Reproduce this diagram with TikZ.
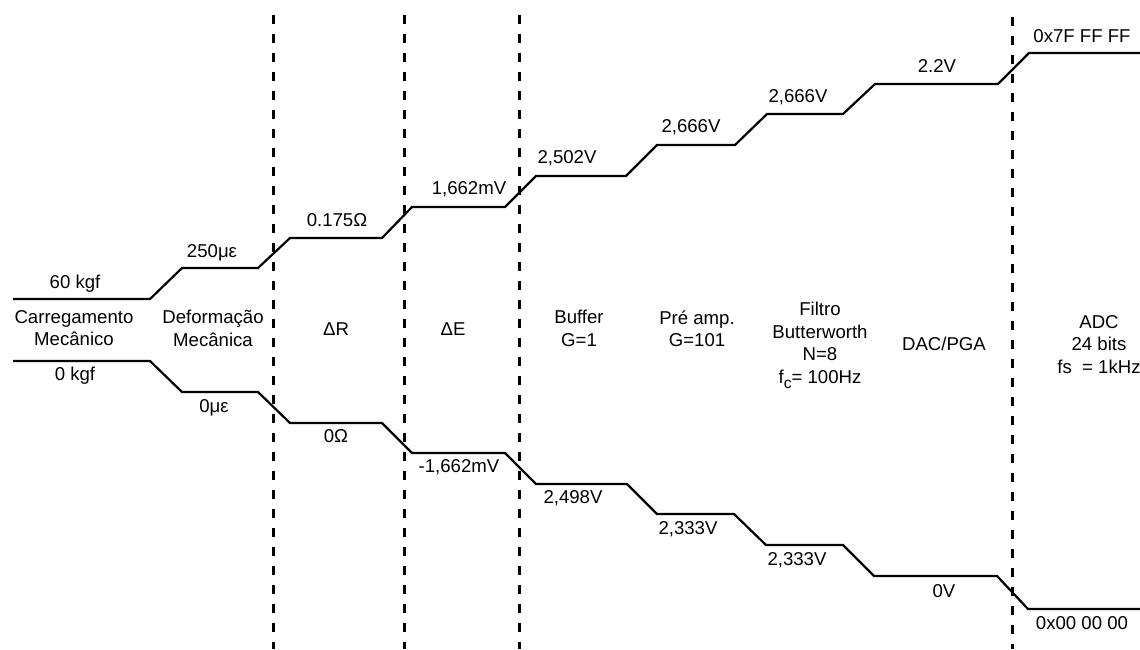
\documentclass[tikz,border=0pt]{standalone}
\usepackage{fontspec}
\setmainfont{Liberation Sans}
\begin{document}
\begin{tikzpicture}[
      x=0.5pt, y=-0.5pt,
      font=\fontsize{9.3}{11.25}\selectfont,
      nivel/.style={line width=1.1pt, line join=miter},
      grenze/.style={line width=1.5pt, dash pattern=on 4.5pt off 5pt},
      wert/.style={anchor=base, inner sep=0pt},
      stufe/.style={anchor=north, align=center, inner sep=0pt}
    ]
      \useasboundingbox (0,0) rectangle (1140,649);

      % Trennlinien zwischen den Stufen
      \draw[grenze] (273,15) -- (273,649);
      \draw[grenze] (404,15) -- (404,649);
      \draw[grenze] (519,15) -- (519,649);
      \draw[grenze] (1012,17) -- (1012,649);

      % obere und untere Treppe
      \draw[nivel] (13,299) -- (150,299) -- (182,268) -- (258,268) -- (290,238) -- (382,238)
        -- (412,207) -- (505,207) -- (536,176) -- (626,176) -- (657,145) -- (735,145)
        -- (767,114) -- (843,114) -- (875,84) -- (998,84) -- (1029,53) -- (1140,53);
      \draw[nivel] (13,361) -- (150,361) -- (182,392) -- (258,392) -- (290,423) -- (382,423)
        -- (412,453) -- (505,453) -- (536,484) -- (627,484) -- (657,514) -- (734,514)
        -- (766,545) -- (843,545) -- (874,576) -- (997,576) -- (1028,609) -- (1140,609);

      \node[wert] (o1) at (75,288) {60 kgf};
      \node[wert] (o2) at (212,257) {250με};
      \node[wert] (o3) at (337,226) {0.175Ω};
      \node[wert] (o4) at (469,194) {1,662mV};
      \node[wert] (o5) at (567,163) {2,502V};
      \node[wert] (o6) at (691,132) {2,666V};
      \node[wert] (o7) at (798,102) {2,666V};
      \node[wert] (o8) at (937,72) {2.2V};
      \node[wert] (o9) at (1082,42) {0x7F FF FF};

      \node[wert] (u1) at (75,380) {0 kgf};
      \node[wert] (u2) at (214,412) {0με};
      \node[wert] (u3) at (336,442) {0Ω};
      \node[wert] (u4) at (459,472) {-1,662mV};
      \node[wert] (u5) at (573,503) {2,498V};
      \node[wert] (u6) at (688,534) {2,333V};
      \node[wert] (u7) at (797,565) {2,333V};
      \node[wert] (u8) at (944,597) {0V};
      \node[wert] (u9) at (1082,629) {0x00 00 00};

      \node[stufe] (carga) at (74,310) {Carregamento\\ Mecânico};
      \node[stufe] (deform) at (213,310) {Deformação\\ Mecânica};
      \node[stufe] (dR) at (336,322) {ΔR};
      \node[stufe] (dE) at (453,322) {ΔE};
      \node[stufe] (buffer) at (579,310) {Buffer\\ G=1};
      \node[stufe] (preamp) at (697,310) {Pré amp.\\ G=101};
      \node[stufe] (filtro) at (820,302) {Filtro\\ Butterworth\\ N=8\\
        f\raisebox{-2.5pt}{\fontsize{7.8}{8}\selectfont c}= 100Hz};
      \node[stufe] (dac) at (944,337) {DAC/PGA};
      \node[stufe] (adc) at (1099,315) {ADC\\ 24 bits\\ fs\ \ = 1kHz};
    \end{tikzpicture}
\end{document}
